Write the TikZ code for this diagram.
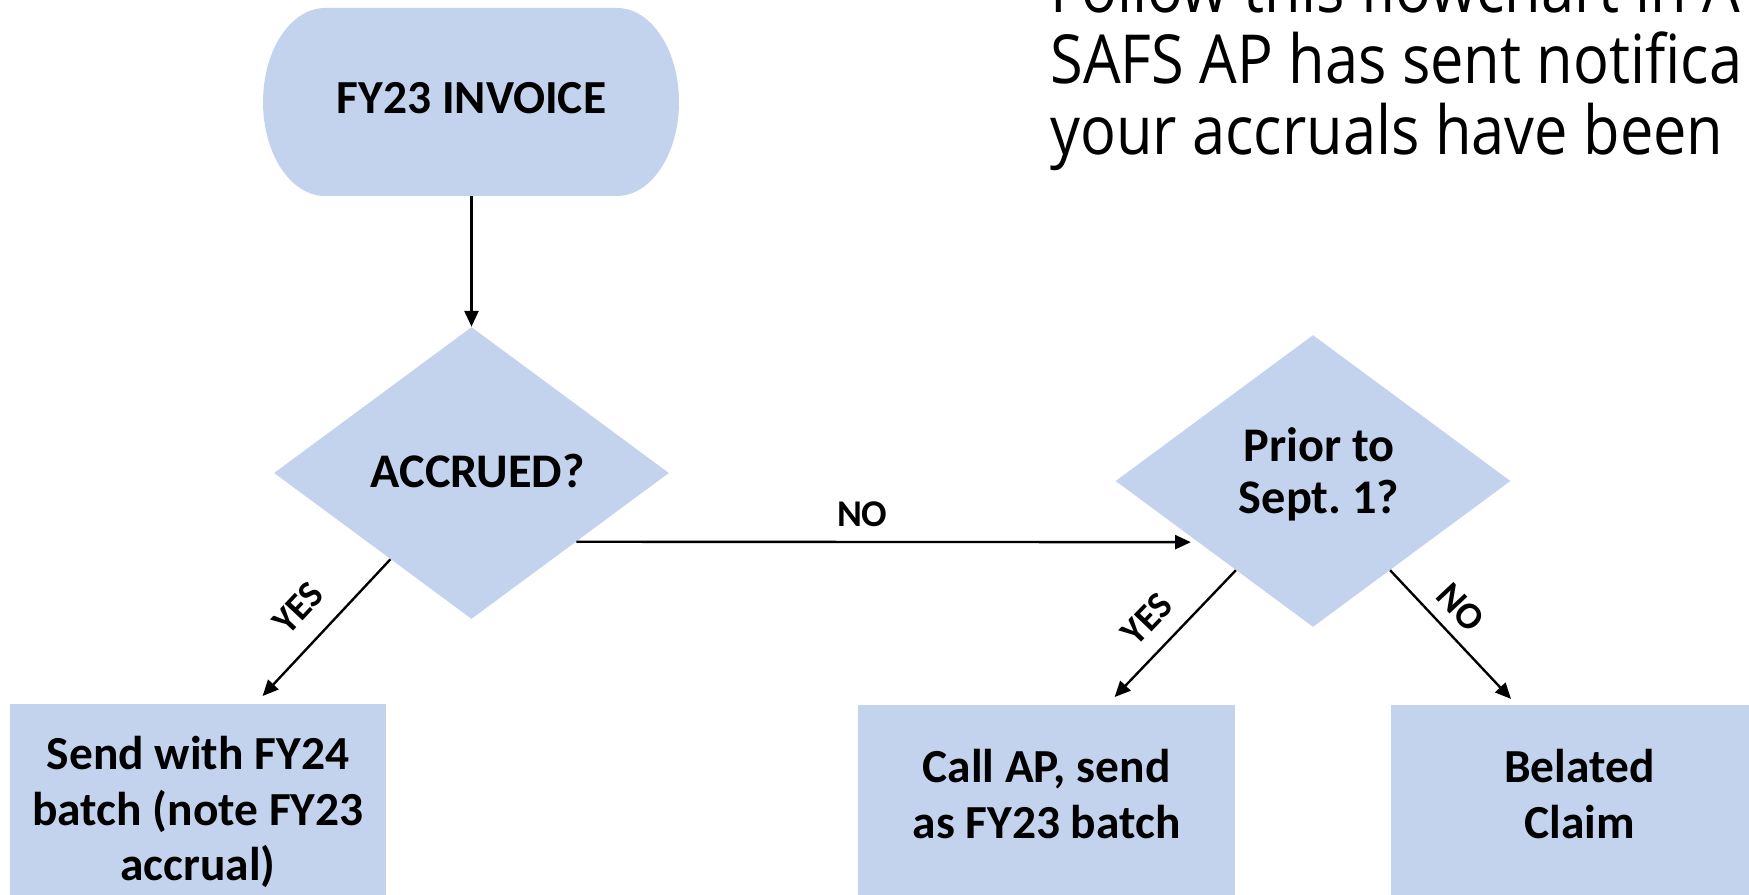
\documentclass[tikz,border=0pt]{standalone}
\usepackage{fontspec}
\setmainfont{Carlito}
\newfontfamily\notefont[FakeStretch=0.88]{Open Sans}
\usetikzlibrary{arrows.meta,calc,shapes.geometric}
\definecolor{boxblue}{RGB}{196,211,237}

\begin{document}
\begin{tikzpicture}[x=0.02cm, y=-0.02cm,
    terminal/.style={minimum width=8.3cm, minimum height=3.76cm, text depth=5pt, font=\fontsize{27pt}{31.7pt}\selectfont\bfseries},
    question/.style={diamond, fill=boxblue, minimum width=7.9cm, minimum height=5.84cm, inner sep=0pt, align=center, font=\fontsize{27.5pt}{30pt}\selectfont\bfseries},
    box/.style={fill=boxblue, minimum width=7.54cm, align=center, font=\fontsize{27pt}{31.7pt}\selectfont\bfseries},
    arr/.style={-{Triangle[length=9pt,width=8pt]}, line width=1.35pt},
    answer/.style={font=\fontsize{21.5pt}{24pt}\selectfont\bfseries, inner sep=0pt},
    note/.style={anchor=base west, inner sep=0pt, font=\notefont\fontsize{38.5pt}{40pt}\selectfont}]

    \useasboundingbox (0,0) rectangle (1749,895);
    \clip (0,0) rectangle (1749,895);

    % Start
    \fill[boxblue] (325,8) -- (617,8) arc[start angle=90, end angle=-90, x radius=1.24cm, y radius=1.88cm]
        -- (325,196) arc[start angle=270, end angle=90, x radius=1.24cm, y radius=1.88cm] -- cycle;
    \node[terminal] (inv) at (471.5,102) {FY23 INVOICE};

    % Questions
    \node[question, text depth=3pt] (acc) at (471.5,473) {\hspace*{7pt}ACCRUED?};
    \node[question, text depth=12pt] (prior) at (1313,481) {\hspace*{7pt}Prior to\\\hspace*{7pt}Sept.\ 1?};

    % Outcomes
    \node[box, minimum height=4.32cm] (send) at (198,812) {Send with FY24\\batch (note FY23\\accrual)};
    \node[box, minimum height=3.8cm, text depth=6.8pt] (call) at (1046.5,800) {Call AP, send\\as FY23 batch};
    \node[box, minimum height=3.8cm, text depth=6.8pt] (claim) at (1579.5,800) {Belated\\Claim};

    % Note
    \node[note] (note1) at (1050,13) {Follow this flowchart in A};
    \node[note] (note2) at (1050,84) {SAFS AP has sent notifica};
    \node[note] (note3) at (1050,155) {your accruals have been};

    % Arrows
    \draw[arr] (inv.south) -- (acc.north);
    \draw[arr, shorten >=4pt] ($(acc.east)!0.47!(acc.south)$) --
        node[answer, pos=0.46, above=8pt] (accno) {NO} ($(prior.west)!0.418!(prior.south)$);
    \draw[arr, shorten >=6pt] ($(acc.west)!0.59!(acc.south)$) --
        node[answer, pos=0.5, sloped, above=11.5pt] (accyes) {YES} ($(send.north west)!0.652!(send.north east)$);
    \draw[arr, shorten >=6pt] ($(prior.west)!0.61!(prior.south)$) --
        node[answer, pos=0.52, sloped, above=9.4pt] (prioryes) {YES} ($(call.north west)!0.661!(call.north east)$);
    \draw[arr, shorten >=4.5pt] ($(prior.east)!0.61!(prior.south)$) --
        node[answer, pos=0.41, sloped, above=6.8pt] (priorno) {NO} ($(claim.north west)!0.333!(claim.north east)$);
\end{tikzpicture}
\end{document}
